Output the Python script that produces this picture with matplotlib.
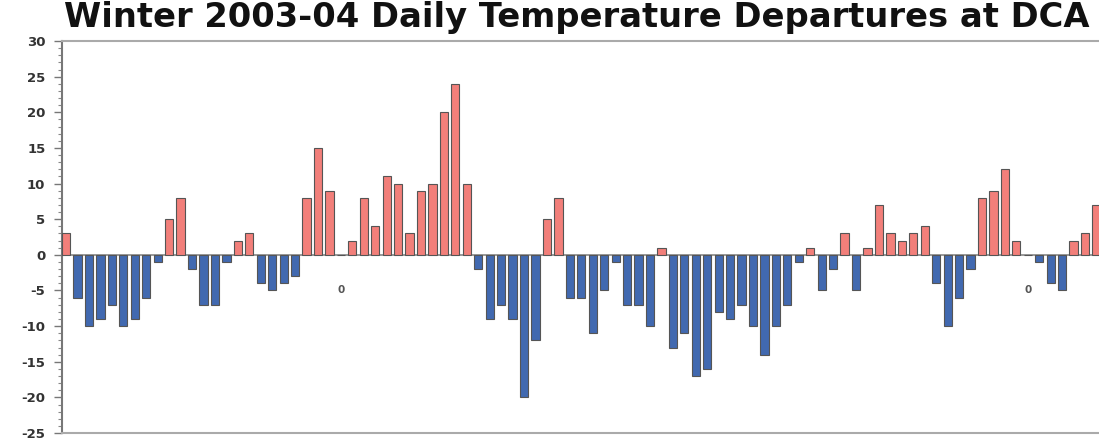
import numpy as np
import matplotlib
matplotlib.use('Agg')
import matplotlib.pyplot as plt
from matplotlib.ticker import MultipleLocator

# daily departures, Dec 1 2003 - Feb 29 2004
departures = [3, -6, -10, -9, -7, -10, -9, -6, -1, 5,
              8, -2, -7, -7, -1, 2, 3, -4, -5, -4,
              -3, 8, 15, 9, 0, 2, 8, 4, 11, 10,
              3, 9, 10, 20, 24, 10, -2, -9, -7, -9,
              -20, -12, 5, 8, -6, -6, -11, -5, -1, -7,
              -7, -10, 1, -13, -11, -17, -16, -8, -9, -7,
              -10, -14, -10, -7, -1, 1, -5, -2, 3, -5,
              1, 7, 3, 2, 3, 4, -4, -10, -6, -2,
              8, 9, 12, 2, 0, -1, -4, -5, 2, 3,
              7]
y_ticks = list(range(-25, 31, 5))
title = 'Winter 2003-04 Daily Temperature Departures at DCA'

plt.rcParams['font.family'] = ['DejaVu Sans']
plt.rcParams['axes.unicode_minus'] = False

vals = np.array(departures)
days = np.arange(len(vals))
colors = np.where(vals > 0, '#F27F7A', '#4169B0')

fig = plt.figure(figsize=(10.99, 4.41), dpi=100)
ax = fig.add_axes([0.0564, 0.018, 0.9436, 0.889])

ax.bar(days, vals, width=0.72, color=colors, edgecolor='#555555', linewidth=0.8, zorder=3)
ax.axhline(0, color='#888888', linewidth=1.2, zorder=2)

# zero-departure days get a little "0" below the axis
for d, v in zip(days, vals):
    if v == 0:
        ax.text(d, -5, '0', ha='center', va='center', fontsize=7.5,
                fontweight='bold', color='#555555')

ax.set_xlim(-0.36, 90.22)
ax.set_ylim(-25, 30)
ax.set_yticks(y_ticks)
ax.yaxis.set_minor_locator(MultipleLocator(1))
ax.set_xticks([])
ax.tick_params(axis='y', which='major', length=6, width=1, color='#777777',
               labelsize=9.5, labelcolor='#333333', pad=6)
ax.tick_params(axis='y', which='minor', length=3, width=0.8, color='#888888')
for lbl in ax.get_yticklabels():
    lbl.set_fontweight('bold')

ax.spines['right'].set_visible(False)
ax.spines['left'].set_color('#777777')
ax.spines['left'].set_linewidth(1.5)
ax.spines['top'].set_color('#aaaaaa')
ax.spines['top'].set_linewidth(1.5)
ax.spines['bottom'].set_color('#aaaaaa')
ax.spines['bottom'].set_linewidth(1.5)

fig.text(0.5245, 0.997, title, ha='center', va='top', fontsize=24.3,
         fontweight='bold', color='#111111')

fig.savefig('out.png', dpi=100)
